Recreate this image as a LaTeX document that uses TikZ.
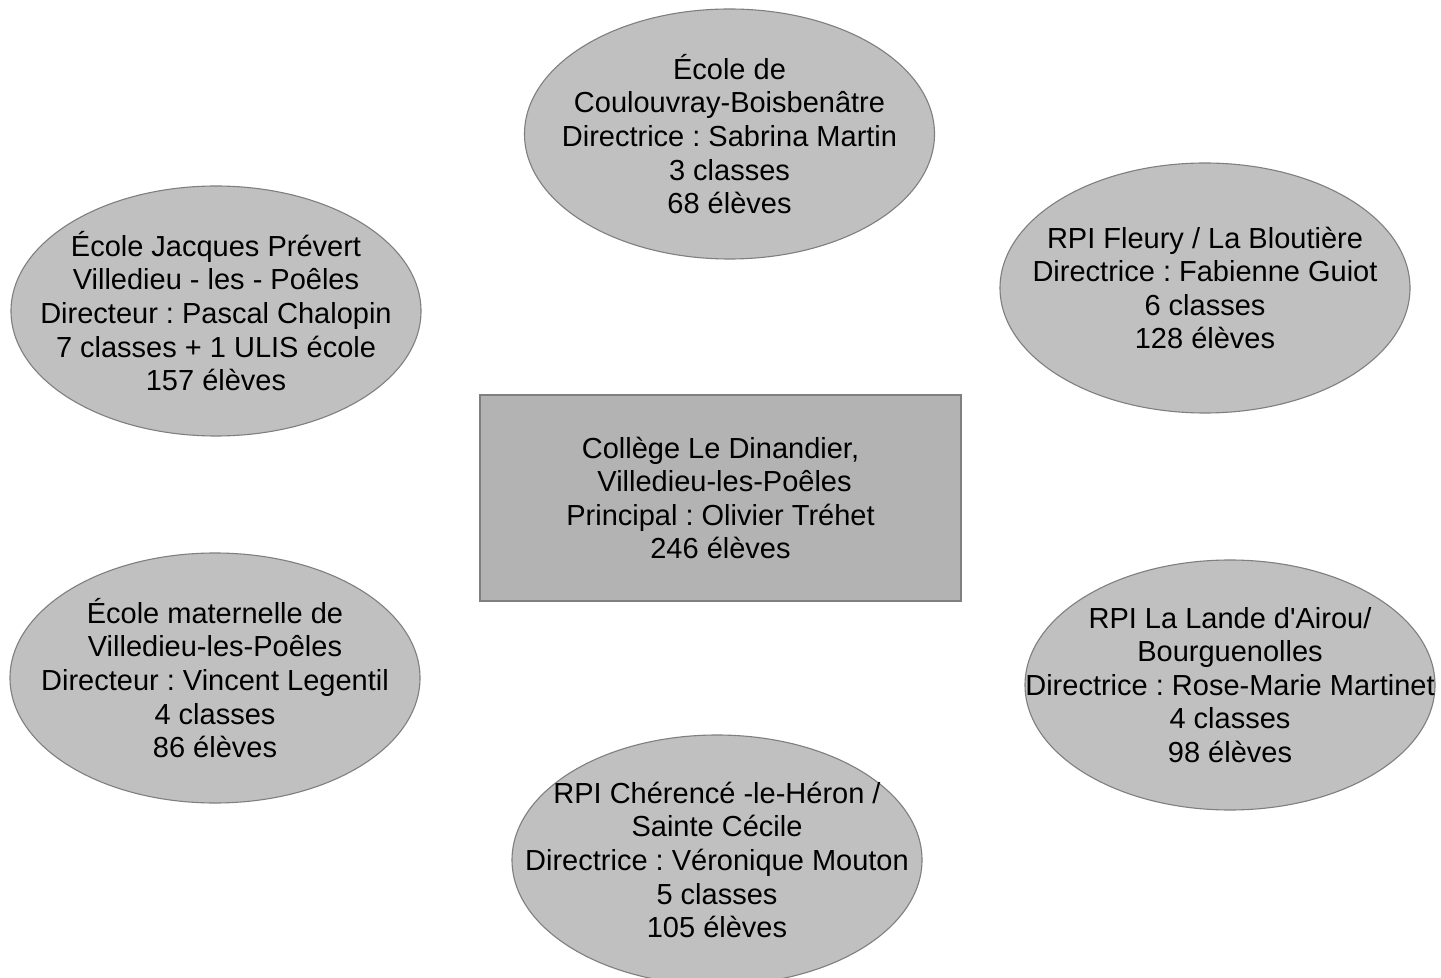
\documentclass[tikz,border=0pt]{standalone}
\usepackage{fontspec}
\setmainfont{Liberation Sans}[Ligatures=TeXOff]
\usetikzlibrary{shapes.geometric}
\definecolor{ellfill}{HTML}{C0C0C0}
\definecolor{boxfill}{HTML}{B3B3B3}
\definecolor{edgegray}{HTML}{7F7F7F}
\frenchspacing
\begin{document}
\begin{tikzpicture}[x=0.5pt,y=-0.5pt,
  school/.style={ellipse, draw=edgegray, fill=ellfill, line width=0.55pt,
    minimum width=205pt, minimum height=125pt, inner sep=0pt},
  college/.style={rectangle, draw=edgegray, fill=boxfill, line width=0.55pt,
    minimum width=240.5pt, minimum height=103pt, inner sep=0pt},
  caption/.style={align=center, font=\fontsize{14.5pt}{16.8pt}\selectfont\frenchspacing,
    text=black, inner sep=0pt}]
\useasboundingbox (0,0) rectangle (1441,978);
\fill[white] (0,0) rectangle (1441,978);

\node[college] (col) at (720.5,498) {};
\node[caption] (colt) at (col.center) {Collège Le Dinandier,\\\hspace*{0.28em}Villedieu-les-Poêles\\Principal : Olivier Tréhet\\246 élèves};

\node[school] (top) at (729.5,134) {};
\node[caption] (topt) at (top.center) {École de\\Coulouvray-Boisbenâtre\\Directrice : Sabrina Martin\\3 classes\\68 élèves};

\node[school] (lt) at (216,311) {};
\node[caption] (ltt) at (lt.center) {École Jacques Prévert\\Villedieu - les - Poêles\\Directeur : Pascal Chalopin\\7 classes + 1 ULIS école\\157 élèves};

\node[school] (rt) at (1205,288) {};
\node[caption] (rtt) at (rt.center) {RPI Fleury / La Bloutière\\Directrice : Fabienne Guiot\\6 classes\\128 élèves};

\node[school] (lb) at (215,678) {};
\node[caption] (lbt) at (lb.center) {École maternelle de\\Villedieu-les-Poêles\\Directeur : Vincent Legentil\\4 classes\\86 élèves};

\node[school] (rb) at (1230,685) {};
\node[caption] (rbt) at (rb.center) {RPI La Lande d'Airou/\\Bourguenolles\\Directrice : Rose-Marie Martinet\\4 classes\\98 élèves};

\node[school] (bt) at (717,860) {};
\node[caption] (btt) at (bt.center) {RPI Chérencé -le-Héron /\\Sainte Cécile\\Directrice : Véronique Mouton\\5 classes\\105 élèves};
\end{tikzpicture}
\end{document}
